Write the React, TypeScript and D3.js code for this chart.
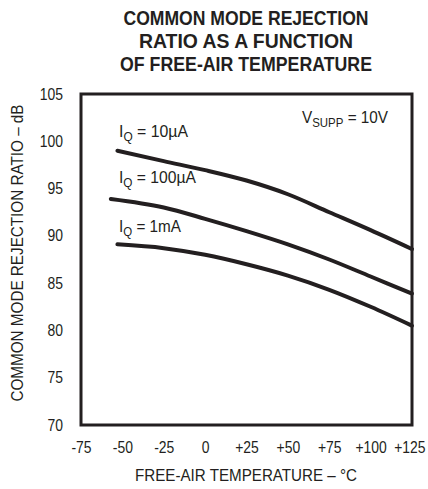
import React, { useEffect, useRef } from "react";
import * as d3 from "d3";

const xTicks = [-75, -50, -25, 0, 25, 50, 75, 100, 125];
const yTicks = [70, 75, 80, 85, 90, 95, 100, 105];

const temps10uA = [-53, -25, 0, 25, 50, 75, 100, 125];
const cmrr10uA = [99.0, 97.9, 96.95, 95.85, 94.4, 92.5, 90.6, 88.6];

const temps100uA = [-57, -25, 0, 25, 50, 75, 100, 125];
const cmrr100uA = [93.9, 93.0, 91.8, 90.5, 89.1, 87.5, 85.7, 83.9];

const temps1mA = [-53, -25, 0, 25, 50, 75, 100, 125];
const cmrr1mA = [89.1, 88.7, 88.0, 87.0, 85.8, 84.3, 82.5, 80.5];

const titleLines = ["COMMON MODE REJECTION", "RATIO AS A FUNCTION", "OF FREE-AIR TEMPERATURE"];

const W = 428;
const H = 489;
const FONT = "'Liberation Sans', Arial, Helvetica, sans-serif";
const INK = "#231f20";

export default function App() {
  const ref = useRef<SVGSVGElement | null>(null);

  const x = d3.scaleLinear().domain([-75, 125]).range([81, 412]);
  const y = d3.scaleLinear().domain([70, 105]).range([425, 94]);

  const series = [
    { t: temps10uA, v: cmrr10uA },
    { t: temps100uA, v: cmrr100uA },
    { t: temps1mA, v: cmrr1mA },
  ];

  const line = d3
    .line<[number, number]>()
    .x((d) => x(d[0]))
    .y((d) => y(d[1]))
    .curve(d3.curveMonotoneX);

  useEffect(() => {
    if (!ref.current) return;
    const svg = d3.select(ref.current);
    svg.selectAll(".axis").remove();

    const fmt = (d: number) => (d > 0 ? "+" + d : d < 0 ? "-" + Math.abs(d) : "0");

    const squeeze = (sel: d3.Selection<any, any, any, any>) => {
      sel
        .attr("font-family", FONT)
        .attr("font-size", 16)
        .attr("fill", INK)
        .each(function (this: SVGTextElement) {
          const w = this.getComputedTextLength();
          this.setAttribute("textLength", String(w * 0.87));
          this.setAttribute("lengthAdjust", "spacingAndGlyphs");
        });
    };

    const gx = svg
      .append("g")
      .attr("class", "axis")
      .attr("transform", `translate(0,425)`)
      .call(
        d3
          .axisBottom(x)
          .tickValues(xTicks)
          .tickSize(0)
          .tickPadding(17)
          .tickFormat((d) => fmt(d as number))
      );
    gx.select(".domain").remove();
    squeeze(gx.selectAll("text"));
    gx.selectAll<SVGGElement, number>(".tick")
      .filter((d) => d === 125)
      .select("text")
      .attr("text-anchor", "end")
      .attr("x", 13);

    const gy = svg
      .append("g")
      .attr("class", "axis")
      .attr("transform", `translate(81,0)`)
      .call(
        d3
          .axisLeft(y)
          .tickValues(yTicks)
          .tickSize(0)
          .tickPadding(18)
          .tickFormat((d) => String(d))
      );
    gy.select(".domain").remove();
    squeeze(gy.selectAll("text"));
  }, []);

  return (
    <svg
      ref={ref}
      width={W}
      height={H}
      style={{ position: "absolute", left: 0, top: 0, background: "#fff" }}
    >
      <rect x={0} y={0} width={W} height={H} fill="#fff" />
      {titleLines.map((t, i) => (
        <text
          key={i}
          x={246}
          y={25 + i * 23}
          textAnchor="middle"
          fontFamily={FONT}
          fontWeight="bold"
          fontSize={20.5}
          fill={INK}
          textLength={[245, 214, 252][i]}
          lengthAdjust="spacingAndGlyphs"
        >
          {t}
        </text>
      ))}

      {series.map((s, i) => (
        <path
          key={i}
          d={line(s.t.map((t, j) => [t, s.v[j]] as [number, number])) || ""}
          fill="none"
          stroke={INK}
          strokeWidth={4}
          strokeLinecap="round"
          strokeLinejoin="round"
        />
      ))}

      <rect
        x={81}
        y={94}
        width={331}
        height={331}
        fill="none"
        stroke={INK}
        strokeWidth={3}
      />

      <g fontFamily={FONT} fontSize={16} fill={INK}>
        <text x={119} y={137} textLength={69} lengthAdjust="spacingAndGlyphs">
          I<tspan fontSize={12} dy={4}>Q</tspan>
          <tspan dy={-4}> = 10µA</tspan>
        </text>
        <text x={119} y={183} textLength={77} lengthAdjust="spacingAndGlyphs">
          I<tspan fontSize={12} dy={4}>Q</tspan>
          <tspan dy={-4}> = 100µA</tspan>
        </text>
        <text x={119} y={232} textLength={62} lengthAdjust="spacingAndGlyphs">
          I<tspan fontSize={12} dy={4}>Q</tspan>
          <tspan dy={-4}> = 1mA</tspan>
        </text>
        <text x={302} y={123} textLength={86} lengthAdjust="spacingAndGlyphs">
          V<tspan fontSize={12} dy={4}>SUPP</tspan>
          <tspan dy={-4}> = 10V</tspan>
        </text>
      </g>

      <text
        x={246}
        y={481}
        textAnchor="middle"
        fontFamily={FONT}
        fontSize={16}
        fill={INK}
        textLength={222}
        lengthAdjust="spacingAndGlyphs"
      >
        FREE-AIR TEMPERATURE – °C
      </text>

      <text
        transform="translate(23,253) rotate(-90)"
        textAnchor="middle"
        fontFamily={FONT}
        fontSize={16}
        fill={INK}
        textLength={297}
        lengthAdjust="spacingAndGlyphs"
      >
        COMMON MODE REJECTION RATIO – dB
      </text>
    </svg>
  );
}
